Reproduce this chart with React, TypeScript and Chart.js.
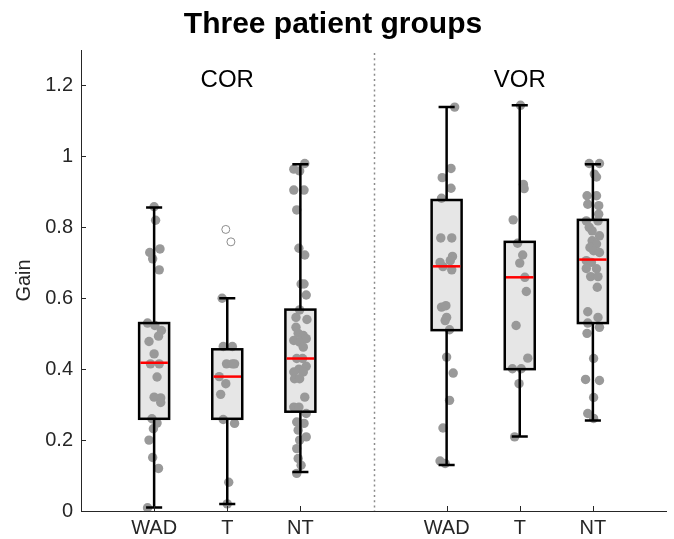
import { useEffect, useRef } from 'react';
import { Chart, registerables } from 'chart.js';

Chart.register(...registerables);

// ---------- data ----------
const titleText = 'Three patient groups';
const yAxisTitle = 'Gain';
const panelLabels = ['COR', 'VOR'];
const categories = ['WAD', 'T', 'NT', 'WAD', 'T', 'NT'];
const yTicks = [0, 0.2, 0.4, 0.6, 0.8, 1, 1.2];
const yMax = 1.3;
const panelLabelY = 1.213;

// box statistics per category
const whiskerLow = [0.01, 0.02, 0.11, 0.13, 0.21, 0.255];
const q1 = [0.26, 0.26, 0.28, 0.51, 0.4, 0.53];
const median = [0.418, 0.379, 0.43, 0.69, 0.659, 0.709];
const q3 = [0.53, 0.456, 0.568, 0.877, 0.759, 0.821];
const whiskerHigh = [0.856, 0.6, 0.978, 1.139, 1.144, 0.978];

// individual observations (value) and horizontal jitter (x units)
const corWadValues = [0.858, 0.82, 0.729, 0.739, 0.711, 0.68, 0.53, 0.523, 0.509, 0.493, 0.478, 0.443, 0.415, 0.415, 0.378, 0.321, 0.319, 0.306, 0.26, 0.248, 0.232, 0.2, 0.151, 0.12, 0.009];
const corWadJitter = [0, 0.02, -0.06, 0.08, -0.02, 0.07, -0.09, 0.01, 0.1, 0.06, -0.07, 0, -0.05, 0.07, 0.04, 0, 0.09, 0.09, -0.03, 0.04, -0.01, -0.07, -0.02, 0.06, -0.09];

const corTValues = [0.6, 0.464, 0.464, 0.415, 0.415, 0.415, 0.379, 0.359, 0.329, 0.258, 0.247, 0.081, 0.02];
const corTJitter = [-0.07, -0.055, 0.07, -0.01, 0.07, 0.1, -0.11, -0.02, -0.09, -0.055, 0.1, 0.02, 0];
const corTOutliers = [0.794, 0.759];
const corTOutlierJitter = [-0.02, 0.05];

const corNtValues = [0.98, 0.964, 0.959, 0.905, 0.905, 0.849, 0.741, 0.722, 0.64, 0.64, 0.609, 0.567, 0.546, 0.54, 0.518, 0.501, 0.495, 0.486, 0.481, 0.476, 0.462, 0.43, 0.43, 0.4, 0.408, 0.392, 0.392, 0.373, 0.373, 0.321, 0.293, 0.293, 0.275, 0.251, 0.247, 0.228, 0.209, 0.2, 0.176, 0.148, 0.129, 0.106];
const corNtJitter = [0.06, -0.09, -0.01, -0.09, 0.05, -0.05, -0.02, 0.06, 0.01, 0.05, 0.08, -0.01, -0.06, 0.09, -0.06, -0.03, 0.04, 0.08, -0.09, -0.01, 0.04, -0.05, 0.03, -0.02, 0.08, -0.09, 0.04, -0.08, -0.01, 0.06, -0.09, -0.02, 0.08, -0.05, 0.05, -0.03, 0.08, -0.01, -0.05, -0.03, 0.01, -0.05];

const vorWadValues = [1.139, 0.966, 0.94, 0.91, 0.882, 0.77, 0.77, 0.718, 0.706, 0.701, 0.689, 0.68, 0.575, 0.579, 0.546, 0.537, 0.511, 0.434, 0.389, 0.312, 0.234, 0.141, 0.134];
const vorWadJitter = [0.11, 0.06, -0.06, 0.06, -0.07, -0.08, 0.07, 0.08, 0.05, -0.09, -0.05, 0.07, -0.07, -0.01, 0, -0.02, 0.04, 0, 0.09, 0.04, -0.05, -0.09, -0.02];

const vorTValues = [1.144, 0.921, 0.909, 0.821, 0.755, 0.722, 0.699, 0.659, 0.619, 0.523, 0.431, 0.401, 0.401, 0.359, 0.209];
const vorTJitter = [0.01, 0.05, 0.06, -0.09, -0.03, 0.04, 0, 0.07, 0.09, -0.05, 0.11, -0.1, 0.02, -0.01, -0.07];

const vorNtValues = [0.98, 0.98, 0.95, 0.942, 0.889, 0.889, 0.865, 0.861, 0.837, 0.818, 0.818, 0.8, 0.79, 0.776, 0.762, 0.753, 0.743, 0.734, 0.729, 0.706, 0.701, 0.684, 0.683, 0.661, 0.661, 0.631, 0.562, 0.546, 0.53, 0.518, 0.501, 0.43, 0.371, 0.368, 0.32, 0.275, 0.261];
const vorNtJitter = [-0.05, 0.09, 0.02, 0.05, -0.08, 0.05, -0.07, 0.08, 0.08, -0.09, 0.07, -0.05, -0.01, 0.09, -0.01, 0.05, -0.04, 0.01, 0.09, -0.09, -0.02, -0.09, 0.05, -0.03, 0.07, 0.06, -0.07, 0.07, -0.07, 0.09, -0.08, 0.01, -0.1, 0.09, 0.01, -0.07, 0.01];

const groupValues = [corWadValues, corTValues, corNtValues, vorWadValues, vorTValues, vorNtValues];
const groupJitter = [corWadJitter, corTJitter, corNtJitter, vorWadJitter, vorTJitter, vorNtJitter];
const outlierValues = [[], corTOutliers, [], [], [], []];
const outlierJitter = [[], corTOutlierJitter, [], [], [], []];

// ---------- styling ----------
const FONT = '"Liberation Sans", Arial, Helvetica, sans-serif';
const AXIS_COLOR = '#262626';
const POINT_COLOR = '#999999';
const BOX_FILL = '#e6e6e6';
const BOX_HALF = 0.205; // x units
const CAP_HALF = 0.11;

const catX = (i: number) => i + 1 + Math.floor(i / 3);
const separatorX = 4;
const xMin = 0;
const xMax = 8;

const boxPlugin = {
  id: 'boxPlugin',
  beforeDatasetsDraw(chart: any) {
    const { ctx, chartArea } = chart;
    const xs = chart.scales.x;
    const ys = chart.scales.y;
    ctx.save();
    // separator
    ctx.strokeStyle = '#8a8a8a';
    ctx.lineWidth = 1.5;
    ctx.setLineDash([2, 3.2]);
    const sx = Math.round(xs.getPixelForValue(separatorX)) + 0.5;
    ctx.beginPath();
    ctx.moveTo(sx, chartArea.top + 3);
    ctx.lineTo(sx, chartArea.bottom);
    ctx.stroke();
    ctx.setLineDash([]);
    // box fills
    ctx.fillStyle = BOX_FILL;
    categories.forEach((_, i) => {
      const cx = catX(i);
      const l = xs.getPixelForValue(cx - BOX_HALF);
      const r = xs.getPixelForValue(cx + BOX_HALF);
      const t = ys.getPixelForValue(q3[i]);
      const b = ys.getPixelForValue(q1[i]);
      ctx.fillRect(l, t, r - l, b - t);
    });
    // panel labels
    ctx.fillStyle = '#000';
    ctx.font = `24px ${FONT}`;
    ctx.textAlign = 'center';
    ctx.textBaseline = 'middle';
    panelLabels.forEach((lab, p) => {
      ctx.fillText(lab, xs.getPixelForValue(catX(p * 3 + 1)), ys.getPixelForValue(panelLabelY));
    });
    ctx.restore();
  },
  afterDatasetsDraw(chart: any) {
    const { ctx, chartArea } = chart;
    const xs = chart.scales.x;
    const ys = chart.scales.y;
    ctx.save();
    ctx.strokeStyle = '#000';
    ctx.lineWidth = 2.5;
    ctx.lineCap = 'butt';
    categories.forEach((_, i) => {
      const cx = catX(i);
      const px = xs.getPixelForValue(cx);
      const l = xs.getPixelForValue(cx - BOX_HALF);
      const r = xs.getPixelForValue(cx + BOX_HALF);
      const cl = xs.getPixelForValue(cx - CAP_HALF);
      const cr = xs.getPixelForValue(cx + CAP_HALF);
      const yq1 = ys.getPixelForValue(q1[i]);
      const yq3 = ys.getPixelForValue(q3[i]);
      const ylo = ys.getPixelForValue(whiskerLow[i]);
      const yhi = ys.getPixelForValue(whiskerHigh[i]);
      ctx.beginPath();
      ctx.moveTo(px, yq3);
      ctx.lineTo(px, yhi);
      ctx.moveTo(px, yq1);
      ctx.lineTo(px, ylo);
      ctx.moveTo(cl, yhi);
      ctx.lineTo(cr, yhi);
      ctx.moveTo(cl, ylo);
      ctx.lineTo(cr, ylo);
      ctx.stroke();
      ctx.strokeRect(l, yq3, r - l, yq1 - yq3);
      const ym = ys.getPixelForValue(median[i]);
      ctx.strokeStyle = '#ff0000';
      ctx.beginPath();
      ctx.moveTo(l + 1.25, ym);
      ctx.lineTo(r - 1.25, ym);
      ctx.stroke();
      ctx.strokeStyle = '#000';
    });
    // inward ticks
    ctx.strokeStyle = AXIS_COLOR;
    ctx.lineWidth = 1;
    ctx.beginPath();
    yTicks.forEach((v) => {
      const y = Math.round(ys.getPixelForValue(v)) + 0.5;
      ctx.moveTo(chartArea.left, y);
      ctx.lineTo(chartArea.left + 5, y);
    });
    categories.forEach((_, i) => {
      const x = Math.round(xs.getPixelForValue(catX(i))) + 0.5;
      ctx.moveTo(x, chartArea.bottom);
      ctx.lineTo(x, chartArea.bottom - 5);
    });
    ctx.stroke();
    ctx.restore();
  },
};

export default function App() {
  const ref = useRef<HTMLCanvasElement | null>(null);

  useEffect(() => {
    if (!ref.current) return;
    const pointDatasets = groupValues.map((vals, i) => ({
      type: 'scatter' as const,
      label: categories[i],
      data: vals.map((v, k) => ({ x: catX(i) + groupJitter[i][k], y: v })),
      backgroundColor: POINT_COLOR,
      borderWidth: 0,
      pointRadius: 4.7,
      pointHoverRadius: 4.7,
    }));
    const outlierDataset = {
      type: 'scatter' as const,
      label: 'outliers',
      data: outlierValues.flatMap((vals, i) =>
        vals.map((v, k) => ({ x: catX(i) + outlierJitter[i][k], y: v }))
      ),
      backgroundColor: '#ffffff',
      borderColor: '#8c8c8c',
      borderWidth: 1,
      pointRadius: 4,
    };

    const chart = new Chart(ref.current, {
      type: 'scatter',
      data: { datasets: [...pointDatasets, outlierDataset] },
      plugins: [boxPlugin],
      options: {
        animation: false,
        responsive: false,
        devicePixelRatio: 1,
        layout: { padding: { left: 0, right: 8, top: 0, bottom: 0 } },
        plugins: {
          legend: { display: false },
          tooltip: { enabled: false },
          title: {
            display: true,
            text: titleText,
            color: '#000',
            font: { family: FONT, size: 30, weight: 'bold' },
            padding: { top: 7, bottom: 7 },
          },
        },
        scales: {
          x: {
            type: 'linear',
            min: xMin,
            max: xMax,
            afterBuildTicks: (scale: any) => {
              scale.ticks = categories.map((_, i) => ({ value: catX(i) }));
            },
            afterFit: (scale: any) => {
              scale.height = 28;
            },
            ticks: {
              autoSkip: false,
              maxRotation: 0,
              padding: 5,
              color: AXIS_COLOR,
              font: { family: FONT, size: 20 },
              callback: (value: any) => {
                const idx = categories.findIndex((_, i) => catX(i) === value);
                return idx >= 0 ? categories[idx] : '';
              },
            },
            grid: { drawOnChartArea: false, drawTicks: false, display: true },
            border: { display: true, color: AXIS_COLOR, width: 1 },
          },
          y: {
            type: 'linear',
            min: 0,
            max: yMax,
            afterBuildTicks: (scale: any) => {
              scale.ticks = yTicks.map((v) => ({ value: v }));
            },
            afterFit: (scale: any) => {
              scale.width = 81;
            },
            ticks: {
              padding: 8,
              color: AXIS_COLOR,
              font: { family: FONT, size: 20 },
              callback: (value: any) => String(Number(Number(value).toFixed(1))),
            },
            grid: { drawOnChartArea: false, drawTicks: false, display: true },
            border: { display: true, color: AXIS_COLOR, width: 1 },
            title: {
              display: true,
              text: yAxisTitle,
              color: AXIS_COLOR,
              font: { family: FONT, size: 20 },
              padding: { top: 12, bottom: 0 },
            },
          },
        },
      },
    });
    return () => chart.destroy();
  }, []);

  return (
    <div style={{ position: 'fixed', left: 0, top: 0, width: 674, height: 539, background: '#fff' }}>
      <canvas ref={ref} width={674} height={539} style={{ width: 674, height: 539 }} />
    </div>
  );
}
